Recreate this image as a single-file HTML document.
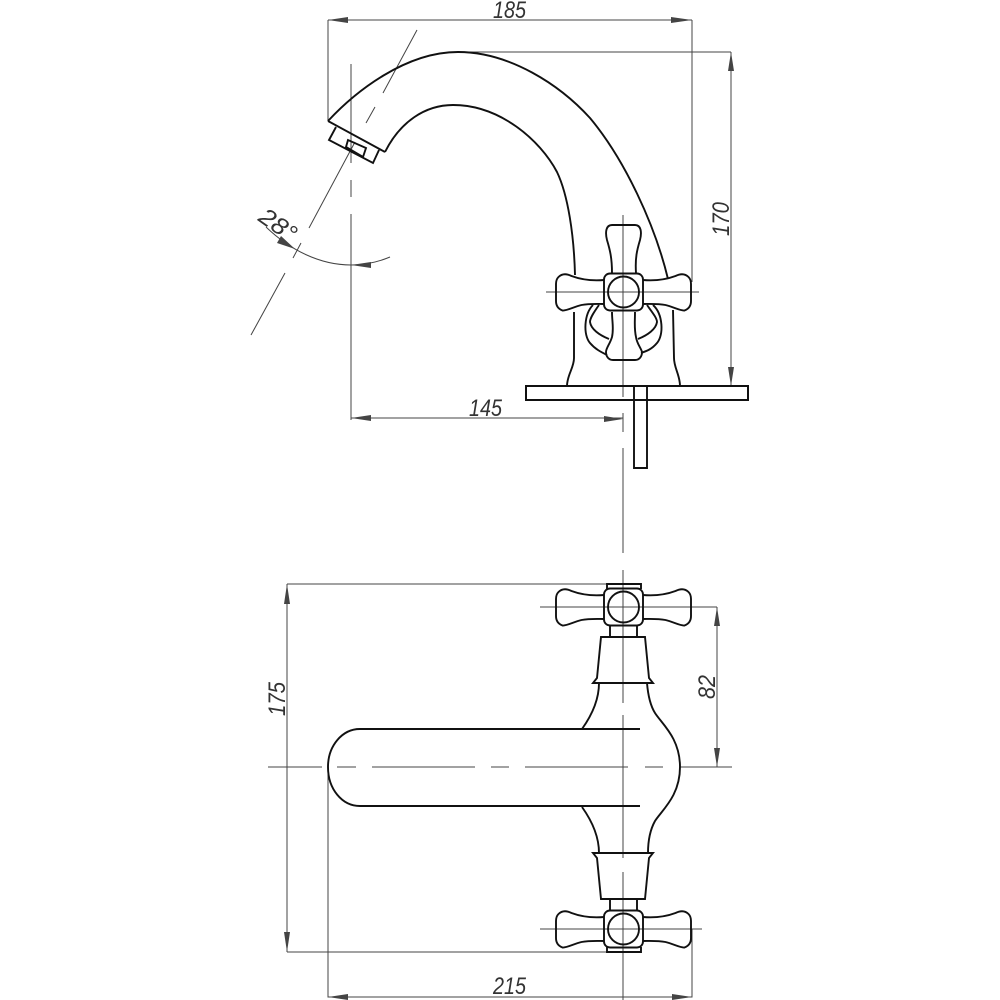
<!DOCTYPE html>
<html><head><meta charset="utf-8"><style>
html,body{margin:0;padding:0;background:#fff}
svg{display:block}
.t{font-family:"Liberation Sans",sans-serif;font-style:italic;font-size:24px;fill:#333}
</style></head><body>
<svg width="1000" height="1000" viewBox="0 0 1000 1000" xmlns="http://www.w3.org/2000/svg">
<defs>
<g id="arms" fill="none" stroke="#111" stroke-width="1.9">
<path d="M-19.5,-12 C-32,-11 -44,-13 -52,-16 C-58,-19 -62,-18 -65,-15 C-67,-13 -67.5,-11 -67.5,-8 L-67.5,9 C-67.5,14 -65,17 -61,18.5 C-57,19 -50,15 -42,13 C-34,11.5 -26,12 -19.5,12"/>
<path d="M19.5,-12 C32,-11 44,-13 52,-16 C58,-19 62,-18 65,-15 C67,-13 67.5,-11 67.5,-8 L67.5,9 C67.5,14 65,17 61,18.5 C57,19 50,15 42,13 C34,11.5 26,12 19.5,12"/>
<rect x="-19.5" y="-18.5" width="39" height="37" rx="6"/>
<circle cx="0" cy="0" r="15.5"/>
</g>
</defs>
<rect width="1000" height="1000" fill="#fff"/>

<!-- thin lines -->
<g fill="none" stroke="#444" stroke-width="1">
<path d="M328 20H692M328 20V121M692 20V282"/>
<path d="M458 52H731M731 52V386"/>
<path d="M351 418H623M351 64V163M351 180V197M351 214V420"/>
<path d="M417 30L383 93M375 107L366 123M355 142L309 228M301 243L293 258M285 273L251 335"/>
<path d="M266 227C290 250 320 265 351 265C365 265 378 262 390 257"/>
<path d="M623 215V397M623 413V432M623 448V553M623 570V703M623 715V858M623 872V1000"/>
<path d="M546 292H699"/>
<path d="M540 607H717M717 607V767M540 929H702"/>
<path d="M287 584H607M287 952H607M287 584V952"/>
<path d="M268 767H322M337 767H356M372 767H475M491 767H509M525 767H628M645 767H663M680 767H732"/>
<path d="M328 767V997H692V929"/>
</g>

<!-- arrowheads -->
<g fill="#444" stroke="none">
<polygon points="328,20 348,17 348,23"/>
<polygon points="692,20 671,17 671,23"/>
<polygon points="731,52 728,71 734,71"/>
<polygon points="731,386 728,367 734,367"/>
<polygon points="351,418 371,415 371,421"/>
<polygon points="623,419 604,416 604,422"/>
<polygon points="287,584 284,604 290,604"/>
<polygon points="287,952 284,932 290,932"/>
<polygon points="717,607 714,626 720,626"/>
<polygon points="717,767 714,748 720,748"/>
<polygon points="328,997 348,994 348,1000"/>
<polygon points="692,997 672,994 672,1000"/>
<polygon points="295,249 281,236 277,243"/>
<polygon points="351,265 371,262 371,268"/>
</g>

<!-- heavy outlines: top view -->
<g fill="none" stroke="#111" stroke-width="1.9">
<path d="M328 121C355 92 405 52 458 52C510 52 560 85 590 118C625 160 655 225 668 279"/>
<path d="M385 152C400 122 425 105 453 105C500 105 540 140 557 172C568 195 574 235 575 275"/>
<path d="M328 121L385 152M336 127L329 140L373 163L379 150"/>
<path d="M348 140L346 147L363 157L366 148Z"/>
<rect x="526" y="386" width="222" height="14" stroke-width="2"/>
<path d="M634 386V468H647V386" />
<path d="M567 386C567 375 574 368 574 358V312"/>
<path d="M680 386C680 375 674 368 674 358L673 310"/>
<path d="M593 305C584 314 583 335 590 343C595 349 601 352 607 355"/>
<path d="M653 305C663 314 664 335 657 343C652 349 647 351 641 353"/>
<path d="M599 305C594 312 590 318 590 322C591 329 599 335 609 339"/>
<path d="M647 305C652 312 657 318 657 322C656 329 648 335 638 339"/>
<use href="#arms" x="623.5" y="292"/>
<path d="M612 273C612 258 610 250 607 240C605 232 606 225 612 225H635C641 225 642 232 640 240C637 250 635 258 636 273"/>
<path d="M612 312C612 322 614 328 612 337C610 344 606 348 606 352C606 357 609 360 613 360H635C639 360 642 357 642 352C641 348 637 344 636 337C634 328 635 322 635 312"/>
</g>

<!-- heavy outlines: plan view -->
<g fill="none" stroke="#111" stroke-width="1.9">
<path d="M640 729H360C342 729 328 746 328 767C328 789 342 806 360 806H640"/>
<path d="M599 683C599 700 592 715 582 729"/>
<path d="M599 853C599 836 592 821 582 807"/>
<path d="M647 683C648 695 650 705 655 713C662 724 680 738 680 767C680 796 662 810 655 821C650 830 648 840 648 853"/>
<use href="#arms" x="623.5" y="607"/>
<use href="#arms" x="623.5" y="929"/>
<path d="M607 589V584H641V589"/>
<path d="M607 947V952H641V947"/>
<path d="M610 625V637M637 625V637"/>
<path d="M610 911V899M637 911V899"/>
<path d="M601 637H645L649 678L653 683H593L597 678Z"/>
<path d="M601 899H645L649 858L653 853H593L597 858Z"/>
</g>

<!-- labels -->
<text class="t" x="493" y="18" textLength="33" lengthAdjust="spacingAndGlyphs">185</text>
<text class="t" x="469" y="416" textLength="33" lengthAdjust="spacingAndGlyphs">145</text>
<text class="t" x="493" y="994" textLength="33" lengthAdjust="spacingAndGlyphs">215</text>
<text class="t" transform="translate(729,236) rotate(-90)" textLength="34" lengthAdjust="spacingAndGlyphs">170</text>
<text class="t" transform="translate(285,716) rotate(-90)" textLength="34" lengthAdjust="spacingAndGlyphs">175</text>
<text class="t" transform="translate(715,699) rotate(-90)" textLength="24" lengthAdjust="spacingAndGlyphs">82</text>
<text class="t" transform="translate(257,220) rotate(35)" textLength="40" lengthAdjust="spacingAndGlyphs">28°</text>
</svg>
</body></html>
